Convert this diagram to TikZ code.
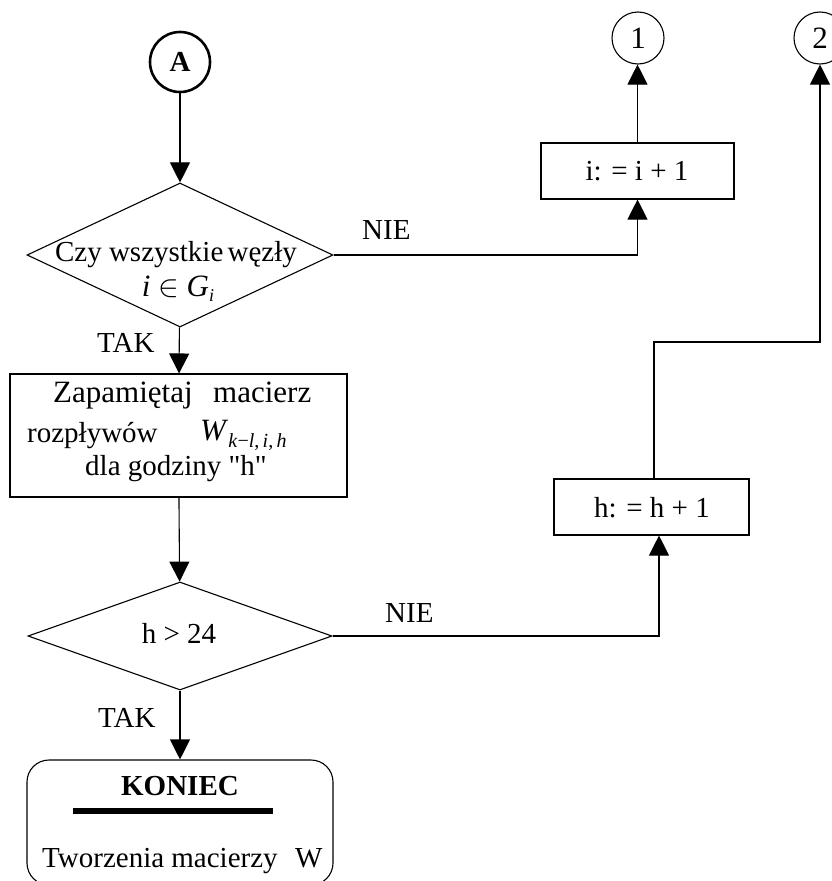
\RequirePackage{fix-cm}
\documentclass[tikz,border=0pt]{standalone}
\usepackage{fontspec}
\setmainfont{Liberation Serif}
\usetikzlibrary{shapes.geometric,arrows.meta}
\begin{document}
\begin{tikzpicture}[x=1pt,y=-1pt,
  every node/.style={font=\fontsize{29}{34}\selectfont, inner sep=0pt},
  line/.style={line width=1.1pt, draw=black},
  arr/.style={line, -{Triangle[width=20pt,length=20pt]}},
  proc/.style={draw, line width=1.1pt, rectangle},
  dec/.style={draw, line width=1.1pt, diamond},
  conn/.style={draw, line width=1.1pt, circle, minimum size=52pt},
  txt/.style={anchor=base},
  txtw/.style={anchor=base west},
]
\useasboundingbox (0,0) rectangle (831,881);

% shapes
\node[conn, line width=2.6pt, minimum size=60pt, font=\fontsize{29}{34}\selectfont\bfseries] (A) at (180,62) {A};
\node[dec, minimum width=306pt, minimum height=144pt] (d1) at (180,255) {};
\node[proc, minimum width=337pt, minimum height=123pt] (b1) at (178.5,435.5) {};
\node[dec, minimum width=304pt, minimum height=108pt] (d2) at (180,636) {};
\node[draw, rounded corners=22pt, line width=1.1pt, minimum width=306pt, minimum height=125pt] (e) at (180,822.5) {};
\node[proc, minimum width=193pt, minimum height=56pt] (bi) at (637.5,171) {};
\node[proc, minimum width=195pt, minimum height=56pt] (bh) at (651.5,507) {};
\node[conn, font=\fontsize{31}{34}\selectfont] (c1) at (638,38) {1};
\node[conn, font=\fontsize{31}{34}\selectfont] (c2) at (820,38) {2};
\coordinate (k2) at (820,342);

% texts
\node[txt] (t1) at (176,261) {Czy wszystkie\hspace{-3pt} węzły};
\node[txt] (t2) at (178,296) {\fontsize{31}{34}\selectfont\textit{i} $\in$ \textit{G}\raisebox{-5pt}{\fontsize{18}{18}\selectfont\textit{i}}};
\node[txtw] (z1) at (53,402) {\fontsize{31}{34}\selectfont Zapamiętaj};
\node[txtw] (z2) at (213,402) {\fontsize{31}{34}\selectfont macierz};
\node[txtw] (z3) at (27,442) {rozpływów};
\node[txtw] (z4) at (200,440) {\fontsize{31}{34}\selectfont\textit{W}\raisebox{-7pt}{\fontsize{20}{20}\selectfont\textit{k}−\textit{l},\,\textit{i},\,\textit{h}}};
\node[txtw] (z5) at (85,475) {dla godziny \textquotedbl h\textquotedbl};
\node[txt] (t3) at (179,643) {h > 24};
\node[txt] (ti) at (637,180) {i: = i + 1};
\node[txt] (th) at (652,517) {h: = h + 1};
\node[txtw] (n1) at (362,239) {NIE};
\node[txtw] (y1) at (97,352) {TAK};
\node[txtw] (n2) at (385,622) {NIE};
\node[txtw] (y2) at (98,727) {TAK};
\node[txt, font=\fontsize{29}{34}\selectfont\bfseries] (ek) at (180,795) {KONIEC};
\draw[line width=6pt] (73,811) -- (273,811);
\node[txtw] (et) at (42,867) {Tworzenia macierzy};
\node[txtw] (ew) at (295,867) {W};

% connectors
\draw[arr] (A) -- (d1);
\draw[arr] (d1) -- (b1);
\draw[arr] (b1) -- (d2);
\draw[arr] (d2) -- (e);
\draw[arr] (d1.east) -| (bi.south);
\draw[arr] (bi.north) -- (bi.north |- c1.south);
\draw[arr] (d2.east) -| ([xshift=7.5pt]bh.south);
\draw[arr] ([xshift=2.5pt]bh.north) |- (k2) -- (c2.south);
\end{tikzpicture}
\end{document}
